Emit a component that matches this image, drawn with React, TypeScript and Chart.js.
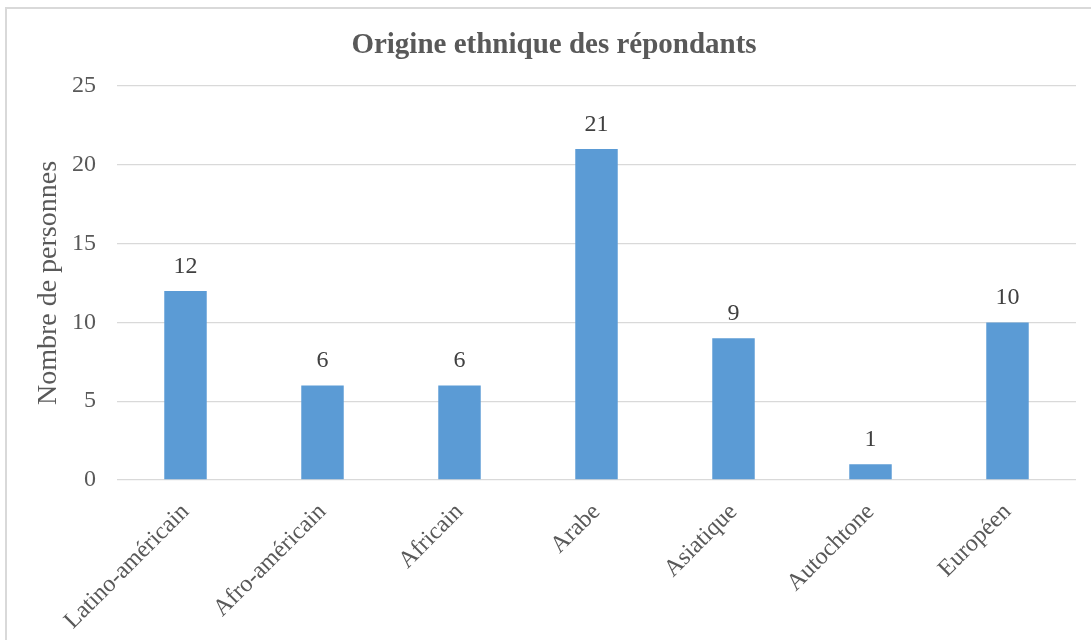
import React, { useEffect, useRef } from "react";
import { Chart, registerables } from "chart.js";

Chart.register(...registerables);

const categories = ["Latino-américain", "Afro-américain", "Africain", "Arabe", "Asiatique", "Autochtone", "Européen"];
const values = [12, 6, 6, 21, 9, 1, 10];
const yTicks = [0, 5, 10, 15, 20, 25];

const FONT = "'Liberation Serif', 'Times New Roman', serif";

const borderPlugin = {
  id: "outerBorder",
  beforeDraw(chart: any) {
    const ctx = chart.ctx;
    ctx.save();
    ctx.fillStyle = "#ffffff";
    ctx.fillRect(0, 0, chart.width, chart.height);
    ctx.strokeStyle = "#D9D9D9";
    ctx.lineWidth = 2;
    ctx.strokeRect(6, 8, 1200, 1000);
    ctx.restore();
  },
};

const valueLabelPlugin = {
  id: "valueLabels",
  afterDatasetsDraw(chart: any) {
    const ctx = chart.ctx;
    const meta = chart.getDatasetMeta(0);
    ctx.save();
    ctx.font = `24px ${FONT}`;
    ctx.fillStyle = "#404040";
    ctx.textAlign = "center";
    ctx.textBaseline = "alphabetic";
    meta.data.forEach((bar: any, i: number) => {
      ctx.fillText(String(chart.data.datasets[0].data[i]), bar.x, bar.y - 18);
    });
    ctx.restore();
  },
};

export default function App() {
  const ref = useRef<HTMLCanvasElement | null>(null);
  useEffect(() => {
    if (!ref.current) return;
    const chart = new Chart(ref.current, {
      type: "bar",
      data: {
        labels: categories,
        datasets: [
          {
            data: values,
            backgroundColor: "#5B9BD5",
            borderWidth: 0,
            categoryPercentage: 1,
            barPercentage: 0.31,
          },
        ],
      },
      options: {
        animation: false,
        responsive: false,
        devicePixelRatio: 1,
        layout: { padding: { left: 32, right: 15, top: 0, bottom: 0 } },
        plugins: {
          legend: { display: false },
          tooltip: { enabled: false },
          title: {
            display: true,
            text: "Origine ethnique des répondants",
            color: "#595959",
            font: { family: FONT, size: 29, weight: "bold" },
            padding: { top: 28.6, bottom: 22.6 },
          },
        },
        scales: {
          x: {
            grid: { display: false },
            border: { display: false },
            ticks: {
              color: "#595959",
              font: { family: FONT, size: 24 },
              minRotation: 45,
              maxRotation: 45,
              padding: 10,
            },
            afterFit(scale: any) {
              scale.height = 160;
            },
          },
          y: {
            min: 0,
            max: 25,
            afterBuildTicks(scale: any) {
              scale.ticks = yTicks.map((v) => ({ value: v }));
            },
            grid: { color: "#D9D9D9", lineWidth: 1.3, drawTicks: false },
            border: { display: false },
            ticks: {
              color: "#595959",
              font: { family: FONT, size: 24 },
              padding: 21,
            },
            title: {
              display: true,
              text: "Nombre de personnes",
              color: "#595959",
              font: { family: FONT, size: 28 },
              padding: { top: 0, bottom: 0 },
            },
            afterFit(scale: any) {
              scale.width = 85;
            },
          },
        },
      },
      plugins: [borderPlugin, valueLabelPlugin],
    });
    return () => chart.destroy();
  }, []);
  return (
    <div style={{ position: "absolute", left: 0, top: 0, width: 1091, height: 640 }}>
      <canvas ref={ref} width={1091} height={640} style={{ display: "block" }} />
    </div>
  );
}
